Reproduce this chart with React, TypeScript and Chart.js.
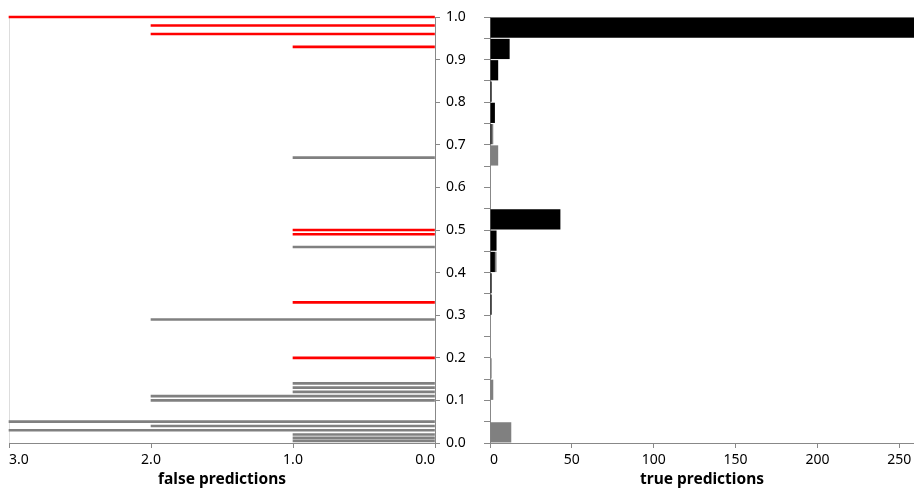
import React, { useEffect, useRef } from 'react';
import { Chart, registerables } from 'chart.js';

Chart.register(...registerables);

// ---- Left panel: false predictions (one rule per predicted probability) ----
const redProbs = [1.0, 0.98, 0.96, 0.93, 0.5, 0.49, 0.33, 0.2];
const redCounts = [3, 2, 2, 1, 1, 1, 1, 1];
const grayProbs = [0.67, 0.46, 0.29, 0.14, 0.13, 0.12, 0.11, 0.1, 0.05, 0.04, 0.03, 0.02, 0.012, 0.005];
const grayCounts = [1, 1, 2, 1, 1, 1, 2, 2, 3, 2, 3, 1, 1, 1];

// ---- Right panel: true predictions (histogram, bins of 0.05) ----
const binCenters = [0.025, 0.075, 0.125, 0.175, 0.225, 0.275, 0.325, 0.375, 0.425, 0.475, 0.525, 0.575, 0.625, 0.675, 0.725, 0.775, 0.825, 0.875, 0.925, 0.975];
const blackCounts = [0, 0, 0, 0, 0, 0, 1, 1, 3, 4, 43, 0, 0, 0, 1, 3, 1, 5, 12, 259];
const grayBinCounts = [13, 0, 2, 1, 0, 0, 0, 0, 1, 0, 0, 0, 0, 5, 1, 0, 0, 0, 0, 0];

// ---- Axis ticks ----
const leftXTicks = [0, 1, 2, 3];
const rightXTicks = [0, 50, 100, 150, 200, 250];
const probTicks = [0, 0.1, 0.2, 0.3, 0.4, 0.5, 0.6, 0.7, 0.8, 0.9, 1.0];
const binEdges = [0, 0.05, 0.1, 0.15, 0.2, 0.25, 0.3, 0.35, 0.4, 0.45, 0.5, 0.55, 0.6, 0.65, 0.7, 0.75, 0.8, 0.85, 0.9, 0.95, 1.0];

const FONT = "'Noto Sans', 'Open Sans', sans-serif";
const AXIS = '#888';

const framePlugin = {
  id: 'frame',
  beforeDraw(chart: any) {
    const { ctx, chartArea: a } = chart;
    ctx.save();
    ctx.strokeStyle = '#ddd';
    ctx.lineWidth = 1;
    ctx.strokeRect(a.left + 0.5, a.top + 0.5, a.right - a.left, a.bottom - a.top);
    ctx.restore();
  },
};

const flushPlugin = {
  id: 'flush',
  beforeDraw(chart: any) {
    const scale = chart.scales.x;
    const a = chart.chartArea;
    const items = scale.getLabelItems(a);
    for (const it of items) {
      const x = it.options.translation[0];
      if (Math.abs(x - a.left) < 1.5) it.options.textAlign = 'left';
      else if (Math.abs(x - a.right) < 1.5) it.options.textAlign = 'right';
    }
  },
};

export default function App() {
  const leftRef = useRef<HTMLCanvasElement>(null);
  const rightRef = useRef<HTMLCanvasElement>(null);

  useEffect(() => {
    const tickFont = { family: FONT, size: 14 };
    const titleFont = { family: FONT, size: 15.5, weight: 'bold' as const };

    const left = new Chart(leftRef.current!, {
      type: 'bar',
      data: {
        datasets: [
          {
            data: redProbs.map((p, i) => ({ x: redCounts[i], y: p })),
            backgroundColor: '#ff0000',
            barThickness: 2,
            grouped: false,
            clip: false as any,
          } as any,
          {
            data: grayProbs.map((p, i) => ({ x: grayCounts[i], y: p })),
            backgroundColor: '#808080',
            barThickness: 2,
            grouped: false,
            clip: false as any,
          } as any,
        ],
      },
      options: {
        indexAxis: 'y',
        animation: false,
        responsive: false,
        layout: { padding: { left: 9, top: 17, right: 0, bottom: 0 } },
        plugins: { legend: { display: false }, tooltip: { enabled: false } },
        scales: {
          x: {
            type: 'linear',
            reverse: true,
            min: 0,
            max: 3,
            offset: false,
            afterBuildTicks: (s: any) => { s.ticks = leftXTicks.map((v) => ({ value: v })); },
            ticks: { callback: (v: any) => Number(v).toFixed(1), font: tickFont, color: '#000', padding: 4, maxRotation: 0 },
            grid: { display: true, offset: false, drawOnChartArea: false, drawTicks: true, tickLength: 5, color: AXIS },
            border: { display: true, color: AXIS },
            title: { display: true, text: 'false predictions', font: titleFont, color: '#000', padding: { top: 0, bottom: 0 } },
            afterFit: (s: any) => { s.height = 46; s.paddingLeft = 0; s.paddingRight = 0; },
          },
          y: {
            type: 'linear',
            position: 'right',
            min: 0,
            max: 1,
            offset: false,
            afterBuildTicks: (s: any) => { s.ticks = probTicks.map((v) => ({ value: v })); },
            ticks: { callback: (v: any) => Number(v).toFixed(1), font: tickFont, color: '#000', padding: 6, autoSkip: false },
            grid: { display: true, offset: false, drawOnChartArea: false, drawTicks: true, tickLength: 5, color: AXIS },
            border: { display: true, color: AXIS, z: 1 },
            afterFit: (s: any) => { s.width = 45; s.paddingTop = 0; s.paddingBottom = 0; },
          },
        },
      } as any,
      plugins: [framePlugin, flushPlugin],
    });

    const xMax = Math.max(...blackCounts.map((b, i) => b + grayBinCounts[i]));

    const right = new Chart(rightRef.current!, {
      type: 'bar',
      data: {
        datasets: [
          { data: binCenters.map((c, i) => ({ x: blackCounts[i], y: c })), backgroundColor: '#000000' },
          { data: binCenters.map((c, i) => ({ x: grayBinCounts[i], y: c })), backgroundColor: '#808080' },
        ],
      },
      options: {
        indexAxis: 'y',
        animation: false,
        responsive: false,
        layout: { padding: { left: 0, top: 17, right: 0, bottom: 0 } },
        plugins: { legend: { display: false }, tooltip: { enabled: false } },
        datasets: { bar: { categoryPercentage: 1, barPercentage: 0.95 } },
        scales: {
          x: {
            type: 'linear',
            stacked: true,
            min: 0,
            max: xMax,
            offset: false,
            afterBuildTicks: (s: any) => { s.ticks = rightXTicks.map((v) => ({ value: v })); },
            ticks: { font: tickFont, color: '#000', padding: 4, maxRotation: 0 },
            grid: { display: true, offset: false, drawOnChartArea: false, drawTicks: true, tickLength: 5, color: AXIS },
            border: { display: true, color: AXIS },
            title: { display: true, text: 'true predictions', font: titleFont, color: '#000', padding: { top: 0, bottom: 0 } },
            afterFit: (s: any) => { s.height = 46; s.paddingLeft = 0; s.paddingRight = 0; },
          },
          y: {
            type: 'linear',
            stacked: true,
            min: 0,
            max: 1,
            offset: false,
            afterBuildTicks: (s: any) => { s.ticks = binEdges.map((v) => ({ value: v })); },
            ticks: { display: false, autoSkip: false },
            grid: { display: true, offset: false, drawOnChartArea: false, drawTicks: true, tickLength: 6, color: AXIS },
            border: { display: true, color: AXIS },
            afterFit: (s: any) => { s.width = 10; s.paddingTop = 0; s.paddingBottom = 0; },
          },
        },
      } as any,
      plugins: [framePlugin, flushPlugin],
    });

    return () => {
      left.destroy();
      right.destroy();
    };
  }, []);

  return (
    <div style={{ position: 'absolute', left: 0, top: 0, width: 914, height: 489, overflow: 'hidden', background: '#fff' }}>
      <canvas ref={leftRef} width={480} height={489} style={{ position: 'absolute', left: 0, top: 0 }} />
      <canvas ref={rightRef} width={434} height={489} style={{ position: 'absolute', left: 480, top: 0 }} />
    </div>
  );
}
